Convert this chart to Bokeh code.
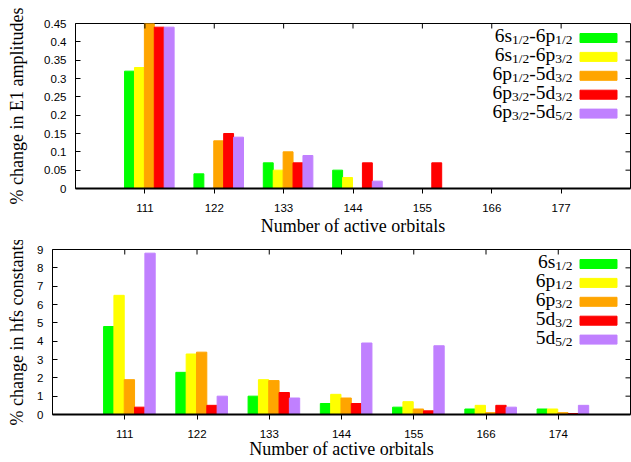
from bokeh.plotting import figure
from bokeh.models import Range1d, FixedTicker
from bokeh.core.properties import value
from bokeh.embed import file_html
from bokeh.resources import INLINE

# ---------------- data ----------------
e1_orbitals = ["111", "122", "133", "144", "155", "166", "177"]
hfs_orbitals = ["111", "122", "133", "144", "155", "166", "174"]

e1_6s12_6p12 = [0.32, 0.04, 0.07, 0.05, 0.0, 0.0, 0.0]
e1_6s12_6p32 = [0.33, 0.0, 0.05, 0.03, 0.0, 0.0, 0.0]
e1_6p12_5d32 = [0.45, 0.13, 0.10, 0.0, 0.0, 0.0, 0.0]
e1_6p32_5d32 = [0.44, 0.15, 0.07, 0.07, 0.07, 0.0, 0.0]
e1_6p32_5d52 = [0.44, 0.14, 0.09, 0.02, 0.0, 0.0, 0.0]

hfs_6s12 = [4.8, 2.3, 1.0, 0.6, 0.4, 0.3, 0.3]
hfs_6p12 = [6.5, 3.3, 1.9, 1.1, 0.7, 0.5, 0.3]
hfs_6p32 = [1.9, 3.4, 1.85, 0.9, 0.3, 0.1, 0.1]
hfs_5d32 = [0.4, 0.5, 1.2, 0.6, 0.2, 0.5, 0.05]
hfs_5d52 = [8.8, 1.0, 0.9, 3.9, 3.75, 0.4, 0.5]

# legend names: alternating normal text / subscript
e1_names = [["6s", "1/2", "-6p", "1/2"],
            ["6s", "1/2", "-6p", "3/2"],
            ["6p", "1/2", "-5d", "3/2"],
            ["6p", "3/2", "-5d", "3/2"],
            ["6p", "3/2", "-5d", "5/2"]]
hfs_names = [["6s", "1/2"], ["6p", "1/2"], ["6p", "3/2"], ["5d", "3/2"], ["5d", "5/2"]]

e1_yticks = [0, 0.05, 0.1, 0.15, 0.2, 0.25, 0.3, 0.35, 0.4, 0.45]
e1_ytick_labels = ["0", "0.05", "0.1", "0.15", "0.2", "0.25", "0.3", "0.35", "0.4", "0.45"]
hfs_yticks = [0, 1, 2, 3, 4, 5, 6, 7, 8, 9]
hfs_ytick_labels = ["0", "1", "2", "3", "4", "5", "6", "7", "8", "9"]

colors = ["#00ff00", "#ffff00", "#ffa500", "#ff0000", "#c080ff"]

# ---------------- styling helpers ----------------
SERIF = "Liberation Serif"
SANS = "Liberation Sans"
MAIN_PX = 19.5
SUB_PX = 13.5
TIMES_W = {'0': 500, '1': 500, '2': 500, '3': 500, '5': 500, '6': 500,
           '/': 278, '-': 333, 's': 389, 'p': 500, 'd': 500}


def text_width(s, px):
    return sum(TIMES_W.get(c, 500) for c in s) * px / 1000.0


def make_chart(orbitals, series, names, ymax, yticks, ytick_labels, ylabel,
               height, b_left, b_top, b_bottom, ylab_standoff, xlab_standoff):
    W = 631
    b_right = 1
    frame_w = W - b_left - b_right
    frame_h = height - b_top - b_bottom
    p = figure(width=W, height=height, x_range=Range1d(-1, 7), y_range=Range1d(0, ymax),
               output_backend="svg", toolbar_location=None,
               min_border_left=b_left, min_border_right=b_right,
               min_border_top=b_top, min_border_bottom=b_bottom)
    p.xgrid.visible = False
    p.ygrid.visible = False
    p.outline_line_color = "black"
    p.outline_line_width = 1
    p.background_fill_color = "white"
    p.border_fill_color = "white"

    ppx = frame_w / 8.0
    ppy = frame_h / ymax

    bw = 1.0 / 7.0
    for k, (vals, col) in enumerate(zip(series, colors)):
        xs = [i + (k - 1.55) * bw for i in range(len(vals))]
        p.vbar(x=xs, top=vals, bottom=0, width=bw, fill_color=col,
               line_color=col, line_width=1)

    xt = FixedTicker(ticks=list(range(len(orbitals))))
    xover = {i: lab for i, lab in enumerate(orbitals)}
    ax = p.xaxis[0]
    ax.ticker = xt
    ax.major_label_overrides = xover
    ax.major_tick_out = 5
    ax.major_tick_in = 0
    ax.minor_tick_line_color = None
    ax.major_tick_line_color = "black"
    ax.axis_line_color = "black"
    ax.axis_line_width = 2
    ax.major_label_text_font = SANS
    ax.major_label_text_font_size = "11.5px"
    ax.major_label_text_color = "black"
    ax.major_label_standoff = 10
    ax.axis_label = "Number of active orbitals"
    ax.axis_label_text_font = SERIF
    ax.axis_label_text_font_size = "18px"
    ax.axis_label_text_font_style = "normal"
    ax.axis_label_text_color = "black"
    ax.axis_label_standoff = xlab_standoff

    yt = FixedTicker(ticks=yticks)
    yover = {t: lab for t, lab in zip(yticks, ytick_labels)}
    ay = p.yaxis[0]
    ay.ticker = yt
    ay.major_label_overrides = yover
    ay.major_tick_out = 0
    ay.major_tick_in = 5
    ay.minor_tick_line_color = None
    ay.major_tick_line_color = "black"
    ay.axis_line_color = None
    ay.major_label_text_font = SANS
    ay.major_label_text_font_size = "11.5px"
    ay.major_label_text_color = "black"
    ay.major_label_standoff = 9
    ay.axis_label = ylabel
    ay.axis_label_text_font = SERIF
    ay.axis_label_text_font_size = "18px"
    ay.axis_label_text_font_style = "normal"
    ay.axis_label_text_color = "black"
    ay.axis_label_standoff = ylab_standoff

    # mirrored inward ticks on the top and right borders
    tick_len = 5
    xticks_pos = list(range(len(orbitals)))
    p.segment(x0=xticks_pos, y0=[ymax] * len(xticks_pos), x1=xticks_pos,
              y1=[ymax - tick_len / ppy] * len(xticks_pos), line_color="black", line_width=1)
    p.segment(x0=[7] * len(yticks), y0=yticks, x1=[7 - tick_len / ppx] * len(yticks),
              y1=yticks, line_color="black", line_width=1)

    # ---- key drawn inside the frame, top-right ----
    sw_center_from_right = 32
    text_right_from_sw = 26
    row0 = 14.5
    row_step = 18.9
    sw_x = 7 - sw_center_from_right / ppx
    tx, ty, tt, txo, tyo, tfs = [], [], [], [], [], []
    for i, (parts, col) in enumerate(zip(names, colors)):
        row_px = row0 + row_step * i
        p.rect(x=sw_x, y=ymax - row_px / ppy, width=37, height=9,
               width_units="screen", height_units="screen",
               fill_color=col, line_color=col, line_width=1)
        cum = 0.0
        for j in range(len(parts) - 1, -1, -1):
            s = parts[j]
            is_sub = (j % 2 == 1)
            px = SUB_PX if is_sub else MAIN_PX
            tx.append(sw_x)
            ty.append(ymax)
            tt.append(s)
            txo.append(-text_right_from_sw - cum)
            tyo.append(row_px + (8.5 if is_sub else 4.5) - 7)
            tfs.append("%gpx" % px)
            cum += text_width(s, px)
    p.text(x=tx, y=ty, text=tt, x_offset=txo, y_offset=tyo, text_font_size=tfs,
           text_align="right", text_baseline="alphabetic",
           text_font=value(SERIF), text_color="black")
    return p


p1 = make_chart(e1_orbitals,
                [e1_6s12_6p12, e1_6s12_6p32, e1_6p12_5d32, e1_6p32_5d32, e1_6p32_5d52],
                e1_names, 0.45, e1_yticks, e1_ytick_labels,
                "% change in E1 amplitudes",
                height=240, b_left=75, b_top=23, b_bottom=52,
                ylab_standoff=14, xlab_standoff=1)
p2 = make_chart(hfs_orbitals,
                [hfs_6s12, hfs_6p12, hfs_6p32, hfs_5d32, hfs_5d52],
                hfs_names, 9, hfs_yticks, hfs_ytick_labels,
                "% change in hfs constants",
                height=222, b_left=52, b_top=9, b_bottom=48,
                ylab_standoff=7, xlab_standoff=-2)

open("out.html", "w").write(file_html([p1, p2], INLINE))
